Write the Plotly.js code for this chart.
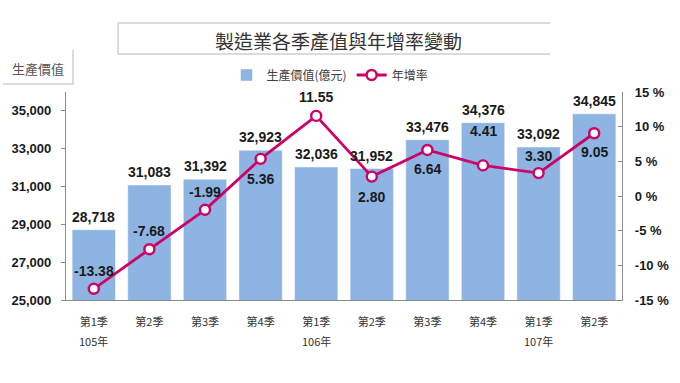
<!DOCTYPE html>
<html>
<head>
<meta charset="utf-8">
<script src="https://cdn.plot.ly/plotly-3.0.1.min.js"></script>
<style>
html,body{margin:0;padding:0;background:#fff;}
#chart{width:680px;height:383px;}
</style>
</head>
<body>
<div id="chart"></div>
<script>
// ---- data ----
const quarters = ['第1季','第2季','第3季','第4季','第1季','第2季','第3季','第4季','第1季','第2季'];
const years = ['105年','','','','106年','','','','107年',''];
const outputValue = [28718, 31083, 31392, 32923, 32036, 31952, 33476, 34376, 33092, 34845];
const growthRate = [-13.38, -7.68, -1.99, 5.36, 11.55, 2.80, 6.64, 4.41, 3.30, 9.05];
const leftTicks = [25000, 27000, 29000, 31000, 33000, 35000];
const rightTicks = [-15, -10, -5, 0, 5, 10, 15];

// ---- style ----
const rateLabelShift = [18, 18, 18, -20, 19, -20, -19, 34, 17, -19];
const numFont = 'Liberation Sans Narrow, Arial Narrow, Liberation Sans, Arial, sans-serif';
const cjkFont = 'Noto Sans CJK TC, Noto Sans CJK SC, sans-serif';
const barColor = '#8DB4E2';
const lineColor = '#CC0066';

const L = 66, R = 622, T = 92, B = 300;
const px = x => (x - L) / (R - L);
const py = y => (B - y) / (B - T);

const idx = quarters.map((q, i) => i);

const barTrace = {
  type: 'bar', name: '生產價值(億元)',
  x: idx, y: outputValue,
  marker: {color: barColor, line: {color: '#ffffff', width: 0.5}},
  width: 0.78,
  yaxis: 'y', hoverinfo: 'none'
};
const lineTrace = {
  type: 'scatter', mode: 'lines+markers', name: '年增率',
  x: idx, y: growthRate, yaxis: 'y2',
  line: {color: lineColor, width: 2.8},
  marker: {symbol: 'circle', size: 10, color: '#ffffff', line: {color: lineColor, width: 2.4}},
  hoverinfo: 'none', cliponaxis: false
};

const annotations = [];
outputValue.forEach((v, i) => {
  annotations.push({
    x: i, y: v, xref: 'x', yref: 'y', text: v.toLocaleString('en-US'),
    showarrow: false, yanchor: 'middle', yshift: 13,
    font: {family: numFont, size: 14, color: '#1a1a1a', weight: 'bold'}
  });
});
growthRate.forEach((v, i) => {
  annotations.push({
    x: i, y: v, xref: 'x', yref: 'y2', text: v.toFixed(2),
    showarrow: false, yanchor: 'middle', yshift: rateLabelShift[i],
    font: {family: numFont, size: 14, color: '#1a1a1a', weight: 'bold'}
  });
});
years.forEach((yr, i) => {
  if (!yr) return;
  annotations.push({
    x: i, y: 0, xref: 'x', yref: 'paper', text: yr,
    showarrow: false, yanchor: 'middle', yshift: -41,
    font: {family: cjkFont, size: 11, color: '#333333'}
  });
});
annotations.push({
  x: px(338), y: py(40), xref: 'paper', yref: 'paper',
  text: '製造業各季產值與年增率變動', showarrow: false,
  xanchor: 'center', yanchor: 'middle',
  font: {family: cjkFont, size: 19, color: '#333333'}
});
annotations.push({
  x: px(38), y: py(69), xref: 'paper', yref: 'paper',
  text: '生產價值', showarrow: false, xanchor: 'center', yanchor: 'middle',
  font: {family: cjkFont, size: 13, color: '#555555'}
});

const boxLine = {color: '#cfcfcf', width: 1.5};
const shapes = [
  {type: 'path', xref: 'paper', yref: 'paper',
   path: `M ${px(550)} ${py(23)} L ${px(118)} ${py(23)} L ${px(118)} ${py(54)} L ${px(550)} ${py(54)}`,
   line: boxLine},
  {type: 'path', xref: 'paper', yref: 'paper',
   path: `M ${px(3)} ${py(84)} L ${px(73)} ${py(84)} L ${px(73)} ${py(50)}`,
   line: boxLine}
];

const layout = {
  width: 680, height: 383,
  margin: {l: L, r: 680 - R, t: T, b: 383 - B, pad: 0},
  paper_bgcolor: '#ffffff', plot_bgcolor: '#ffffff',
  showlegend: true,
  legend: {
    orientation: 'h', x: px(330), y: py(75), xanchor: 'center', yanchor: 'middle',
    font: {family: cjkFont, size: 12, color: '#404040'},
    itemwidth: 30, tracegroupgap: 0, bgcolor: 'rgba(0,0,0,0)'
  },
  bargap: 0.22,
  xaxis: {
    range: [-0.5, 9.5], tickmode: 'array', tickvals: idx, ticktext: quarters,
    showline: true, linecolor: '#8c8c8c', linewidth: 1.2, ticks: '',
    showgrid: false, zeroline: false, ticklabelstandoff: 12,
    tickfont: {family: cjkFont, size: 11, color: '#333333'}
  },
  yaxis: {
    range: [25000, 36000], tickmode: 'array', tickvals: leftTicks,
    ticktext: leftTicks.map(v => v.toLocaleString('en-US')),
    showline: true, linecolor: '#8c8c8c', linewidth: 1.2,
    ticks: 'outside', ticklen: 4, tickcolor: '#8c8c8c',
    showgrid: false, zeroline: false, ticklabelstandoff: 7,
    tickfont: {family: 'Liberation Sans, Arial, sans-serif', size: 13, color: '#1a1a1a', weight: 'bold'}
  },
  yaxis2: {
    overlaying: 'y', side: 'right',
    range: [-15, 15], tickmode: 'array', tickvals: rightTicks,
    ticktext: rightTicks.map(v => v + ' %'),
    showline: true, linecolor: '#8c8c8c', linewidth: 1.2,
    ticks: 'inside', ticklen: 4, tickcolor: '#8c8c8c',
    showgrid: false, zeroline: false, ticklabelstandoff: 9,
    tickfont: {family: 'Liberation Sans, Arial, sans-serif', size: 13, color: '#1a1a1a', weight: 'bold'}
  },
  annotations: annotations,
  shapes: shapes
};

Plotly.newPlot('chart', [barTrace, lineTrace], layout, {staticPlot: true, displayModeBar: false});
</script>
</body>
</html>
